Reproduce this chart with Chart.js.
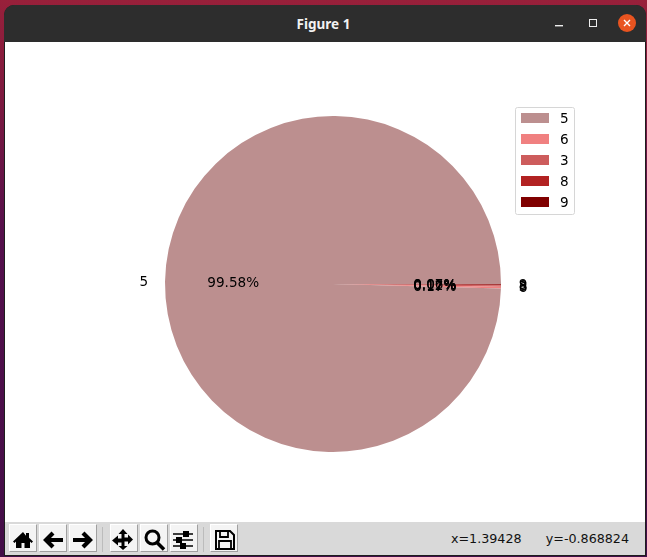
<!DOCTYPE html>
<html>
<head>
<meta charset="utf-8">
<title>Figure 1</title>
<script src="https://cdn.jsdelivr.net/npm/chart.js@4"></script>
<style>
    html, body { margin: 0; padding: 0; }
    body {
        width: 647px; height: 557px; position: relative; overflow: hidden;
        background: linear-gradient(to bottom, #98203a 0%, #7d1a40 18%, #55104c 42%, #430e48 100%);
    }
    #frame {
        position: absolute; left: 4px; top: 5px; width: 642px; height: 551px;
        background: #1e1e1e; border-radius: 10px 10px 0 0;
    }
    #titlebar {
        position: absolute; left: 4px; top: 5px; width: 642px; height: 37px;
        background: #2d2d2d; border-radius: 10px 10px 0 0;
        color: #f2f2f2; font: bold 13.5px "Noto Sans", sans-serif;
        line-height: 38px; text-align: center; text-indent: -3px;
    }
    #titlebar svg { position: absolute; left: 0; top: 0; }
    #plot { position: absolute; left: 5px; top: 42px; width: 640px; height: 480px; background: #fff; }
    #toolbar {
        position: absolute; left: 5px; top: 522px; width: 640px; height: 33px;
        background: #d9d9d9;
    }
    .btn {
        position: absolute; top: 2px; width: 26px; height: 26px;
        background: #f4f4f4; border: 1px solid; border-color: #fff #a0a0a0 #a0a0a0 #fff;
    }
    .btn svg { position: absolute; left: 0; top: 0; }
    .sep { position: absolute; top: 5px; width: 1px; height: 25px; background: #bcbcbc; }
    #status {
        position: absolute; right: 16px; top: 9px; white-space: pre;
        font: 12.7px "DejaVu Sans", sans-serif; color: #111;
    }
</style>
</head>
<body>
<div id="frame"></div>
<div id="titlebar">Figure 1
    <svg width="642" height="37">
        <rect x="551" y="20" width="8" height="1.4" fill="#eee"/>
        <rect x="585.5" y="14.5" width="7" height="7" fill="none" stroke="#eee"/>
        <circle cx="623" cy="18" r="9" fill="#e95420"/>
        <path d="M620 15l6 6M626 15l-6 6" stroke="#fff" stroke-width="1.4"/>
    </svg>
</div>
<div id="plot"><canvas id="pie" width="640" height="480"></canvas></div>
<div id="toolbar">
    <div class="btn" style="left:4px"><svg width="26" height="26"><path d="M13 7L3 16.5l1.5 1.5L6 16.6V23h5.5v-5h3v5H20v-6.4l1.5 1.4 1.5-1.5-4-3.8V8h-3v2.8z" fill="#000"/></svg></div>
    <div class="btn" style="left:34px"><svg width="26" height="26"><path d="M23 15H7M13 8l-7 7 7 7" fill="none" stroke="#000" stroke-width="4.2"/></svg></div>
    <div class="btn" style="left:64px"><svg width="26" height="26"><path d="M3 15h16M13 8l7 7-7 7" fill="none" stroke="#000" stroke-width="4.2"/></svg></div>
    <div class="sep" style="left:97px"></div>
    <div class="btn" style="left:105px"><svg width="26" height="26"><path d="M12 4l4.5 5h-3v3.5H17v-3l5 5-5 5v-3h-3.500V21h3l-4.500 4-4.500-4h3v-3.500H7v3l-6-5 6-5v3h3.500V9h-3z" fill="#000"/></svg></div>
    <div class="btn" style="left:135px"><svg width="26" height="26"><circle cx="11.500" cy="12.500" r="6.500" fill="none" stroke="#000" stroke-width="3"/><path d="M16 17.500l7 7" stroke="#000" stroke-width="3.600"/></svg></div>
    <div class="btn" style="left:165px"><svg width="26" height="26"><path d="M2 9h20M2 15h20M2 21h20" stroke="#000" stroke-width="1.600"/><rect x="12" y="6" width="6" height="6" fill="#000"/><rect x="5" y="12" width="6" height="6" fill="#000"/><rect x="9" y="18" width="6" height="6" fill="#000"/></svg></div>
    <div class="sep" style="left:198px"></div>
    <div class="btn" style="left:205px"><svg width="26" height="26"><path d="M5 6h14l4 4v14H5z" fill="none" stroke="#000" stroke-width="2"/><path d="M9 6v6h8V6M8 24v-8h12v8" fill="none" stroke="#000" stroke-width="1.800"/></svg></div>
    <div id="status">x=1.39428      y=-0.868824</div>
</div>
<script>
const labels = ['5', '6', '3', '8', '9'];
const values = [99.58, 0.17, 0.12, 0.07, 0.06];
const percentTexts = ['99.58%', '0.17%', '0.12%', '0.07%', '0.06%'];
const colors = ['#bc8f8f', '#f08080', '#cd5c5c', '#b22222', '#800000'];

const FONT = '13.6px "DejaVu Sans", sans-serif';

// matplotlib goes counter-clockwise from east, Chart.js only clockwise,
// so feed the slices reversed and start at 90 degrees
const pieLabels = {
    id: 'pieLabels',
    afterDraw(chart) {
        const ctx = chart.ctx;
        const arcs = chart.getDatasetMeta(0).data;
        ctx.save();
        ctx.font = FONT;
        ctx.fillStyle = '#000';
        ctx.textBaseline = 'middle';
        arcs.forEach((arc, i) => {
            const idx = labels.length - 1 - i;
            const mid = (arc.startAngle + arc.endAngle) / 2;
            const r = arc.outerRadius;
            const cos = Math.cos(mid), sin = Math.sin(mid);
            ctx.textAlign = 'center';
            ctx.fillText(percentTexts[idx], arc.x + 0.6 * r * cos + 1, arc.y + 0.6 * r * sin + 1);
            ctx.textAlign = cos < 0 ? 'right' : 'left';
            ctx.fillText(labels[idx], arc.x + 1.1 * r * cos + (cos < 0 ? 0 : 1), arc.y + 1.1 * r * sin + 1);
        });
        ctx.restore();
    }
};

// legend box sits in the upper right, like loc='best' picked in the original
const boxLegend = {
    id: 'boxLegend',
    afterDraw(chart) {
        const ctx = chart.ctx;
        ctx.save();
        ctx.fillStyle = 'rgba(255,255,255,0.8)';
        ctx.strokeStyle = '#d6d6d6';
        ctx.lineWidth = 1;
        ctx.beginPath();
        ctx.roundRect(510.5, 65.5, 59, 107, 2);
        ctx.fill();
        ctx.stroke();
        ctx.font = FONT;
        ctx.textAlign = 'left';
        ctx.textBaseline = 'middle';
        labels.forEach((label, i) => {
            const y = 71 + i * 21;
            ctx.fillStyle = colors[i];
            ctx.fillRect(516, y, 28, 10);
            ctx.fillStyle = '#000';
            ctx.fillText(label, 555, y + 6);
        });
        ctx.restore();
    }
};

new Chart(document.getElementById('pie').getContext('2d'), {
    type: 'pie',
    data: {
        labels: labels.slice().reverse(),
        datasets: [{
            data: values.slice().reverse(),
            backgroundColor: colors.slice().reverse(),
            borderWidth: 0
        }]
    },
    options: {
        responsive: false,
        animation: false,
        rotation: 90,
        layout: { padding: { left: 160, right: 144, top: 74, bottom: 70 } },
        plugins: {
            legend: { display: false },
            tooltip: { enabled: false }
        }
    },
    plugins: [pieLabels, boxLegend]
});
</script>
</body>
</html>
